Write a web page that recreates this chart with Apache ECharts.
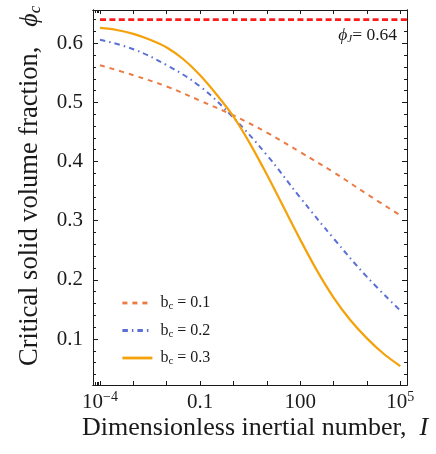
<!DOCTYPE html>
<html>
<head>
<meta charset="utf-8">
<script src="https://cdn.jsdelivr.net/npm/echarts@6/dist/echarts.min.js"></script>
<style>
  html, body { margin: 0; padding: 0; background: #ffffff; }
  #chart { width: 436px; height: 454px; }
</style>
</head>
<body>
<div id="chart"></div>
<script>
// Inertial number samples (one per decade)
const I_VALUES = [1e-4, 1e-3, 1e-2, 1e-1, 1, 10, 100, 1e3, 1e4, 1e5];
// Half-decade samples for the steepest curve
const I_HALF = [1e-4, 3.16e-4, 1e-3, 3.16e-3, 1e-2, 3.16e-2, 1e-1, 3.16e-1, 1, 3.16,
                10, 31.6, 100, 316, 1e3, 3160, 1e4, 31600, 1e5];

// Critical solid volume fraction for each b_c
const PHI_BC01 = [0.563, 0.546, 0.527, 0.503, 0.478, 0.449, 0.416, 0.382, 0.345, 0.309];
const PHI_BC02 = [0.606, 0.590, 0.563, 0.527, 0.474, 0.411, 0.339, 0.270, 0.205, 0.148];
const PHI_BC03 = [0.626, 0.6225, 0.616, 0.606, 0.593, 0.573, 0.546, 0.513, 0.476, 0.430,
                  0.378, 0.323, 0.268, 0.216, 0.170, 0.132, 0.101, 0.075, 0.054];

// Jamming fraction
const PHI_J = 0.64;

const SERIES_NAMES = ['b_c = 0.1', 'b_c = 0.2', 'b_c = 0.3'];

// Axis ticks
const X_TICKS = [1e-4, 1e-3, 1e-2, 1e-1, 1, 10, 100, 1e3, 1e4, 1e5];
const X_LABELS = [1e-4, 0.1, 100, 1e5];
const X_MINOR = [7e-5, 8e-5, 9e-5];
const Y_TICKS = [0.1, 0.2, 0.3, 0.4, 0.5, 0.6];
const Y_MINOR = [0.04, 0.06, 0.08, 0.12, 0.14, 0.16, 0.18, 0.22, 0.24, 0.26, 0.28,
                 0.32, 0.34, 0.36, 0.38, 0.42, 0.44, 0.46, 0.48, 0.52, 0.54, 0.56,
                 0.58, 0.62, 0.64];

const X_MIN = Math.pow(10, -4.21);
const X_MAX = Math.pow(10, 5.2);
const Y_MIN = 0.0222;
const Y_MAX = 0.6563;

const SERIF = '"Liberation Serif", "DejaVu Serif", serif';
const INK = '#1a1a1a';

const pairs = (xs, ys) => xs.map((x, i) => [x, ys[i]]);

function xLabel(v) {
  const e = Math.round(Math.log10(v));
  if (e === -4 || e === 5) {
    return '{base|10}{sup|' + (e < 0 ? '\u2212' + (-e) : e) + '}';
  }
  return '{base|' + (e === -1 ? '0.1' : '100') + '}';
}

function xAxisDef(position, ticks, len, showLabels) {
  return {
    type: 'log',
    logBase: 10,
    position: position,
    min: X_MIN,
    max: X_MAX,
    axisLine: { show: true, lineStyle: { color: INK, width: 1 } },
    splitLine: { show: false },
    axisTick: { show: true, inside: true, length: len, customValues: ticks,
                lineStyle: { color: INK, width: 1 } },
    axisLabel: showLabels ? {
      show: true, customValues: X_LABELS, margin: 5,
      formatter: xLabel,
      rich: {
        base: { fontFamily: SERIF, fontSize: 21, color: INK, lineHeight: 24, verticalAlign: 'middle' },
        sup: { fontFamily: SERIF, fontSize: 14, color: INK, lineHeight: 12, verticalAlign: 'top' }
      }
    } : { show: false }
  };
}

function yAxisDef(position, ticks, len, showLabels) {
  return {
    type: 'value',
    position: position,
    min: Y_MIN,
    max: Y_MAX,
    axisLine: { show: true, lineStyle: { color: INK, width: 1 } },
    splitLine: { show: false },
    axisTick: { show: true, inside: true, length: len, customValues: ticks,
                lineStyle: { color: INK, width: 1 } },
    axisLabel: showLabels ? {
      show: true, customValues: Y_TICKS, margin: 10,
      fontFamily: SERIF, fontSize: 21, color: INK,
      formatter: (v) => v.toFixed(1)
    } : { show: false }
  };
}

const chart = echarts.init(document.getElementById('chart'), null, { renderer: 'canvas' });

chart.setOption({
  animation: false,
  backgroundColor: '#ffffff',
  grid: { left: 93, right: 29, top: 10, bottom: 69, containLabel: false },
  xAxis: [
    xAxisDef('bottom', X_TICKS, 4, true),
    xAxisDef('bottom', X_MINOR, 3, false),
    xAxisDef('top', X_TICKS, 4, false),
    xAxisDef('top', X_MINOR, 3, false)
  ],
  yAxis: [
    yAxisDef('left', Y_TICKS, 5, true),
    yAxisDef('left', Y_MINOR, 3, false),
    yAxisDef('right', Y_TICKS, 5, false),
    yAxisDef('right', Y_MINOR, 3, false)
  ],
  legend: {
    data: SERIES_NAMES,
    orient: 'vertical',
    left: 116,
    top: 290,
    itemWidth: 30,
    itemHeight: 14,
    itemGap: 10.5,
    itemStyle: { opacity: 0 },
    lineStyle: { width: 2.8 },
    formatter: (name) => {
      const rest = name.replace('b_c', '');
      return '{b|b}{s|c}{b|' + rest + '}';
    },
    textStyle: {
      padding: [0, 0, 0, 3],
      rich: {
        b: { fontFamily: SERIF, fontSize: 16, color: INK, lineHeight: 18, verticalAlign: 'middle' },
        s: { fontFamily: SERIF, fontSize: 11, color: INK, lineHeight: 11, verticalAlign: 'bottom' }
      }
    }
  },
  graphic: [
    {
      type: 'text',
      x: 82,
      y: 428,
      style: {
        text: '{t|Dimensionless inertial number,  }{i|I}',
        textAlign: 'left',
        textVerticalAlign: 'middle',
        rich: {
          t: { fontFamily: SERIF, fontSize: 26, fill: INK },
          i: { fontFamily: SERIF, fontSize: 26, fontStyle: 'italic', fill: INK }
        }
      }
    },
    {
      type: 'text',
      x: 30,
      y: 366,
      rotation: Math.PI / 2,
      style: {
        text: '{t|Critical solid volume fraction,   }{i|\u03D5}{s|c}',
        textAlign: 'left',
        textVerticalAlign: 'middle',
        rich: {
          t: { fontFamily: SERIF, fontSize: 26.5, fill: INK, lineHeight: 28, verticalAlign: 'middle' },
          i: { fontFamily: SERIF, fontSize: 26, fontStyle: 'italic', fill: INK, lineHeight: 28, verticalAlign: 'middle' },
          s: { fontFamily: SERIF, fontSize: 17, fontStyle: 'italic', fill: INK, lineHeight: 16, verticalAlign: 'bottom' }
        }
      }
    },
    {
      type: 'text',
      x: 397,
      y: 35,
      style: {
        text: '{i|\u03D5}{s|J}{t|= 0.64}',
        textAlign: 'right',
        textVerticalAlign: 'middle',
        rich: {
          i: { fontFamily: SERIF, fontSize: 17.5, fontStyle: 'italic', fill: INK, lineHeight: 20, verticalAlign: 'middle' },
          s: { fontFamily: SERIF, fontSize: 11, fontStyle: 'italic', fill: INK, lineHeight: 11, verticalAlign: 'bottom' },
          t: { fontFamily: SERIF, fontSize: 17.5, fill: INK, lineHeight: 20, verticalAlign: 'middle' }
        }
      }
    }
  ],
  series: [
    {
      name: 'phiJ',
      type: 'line',
      data: [[I_VALUES[0], PHI_J], [X_MAX, PHI_J]],
      showSymbol: false,
      symbol: 'none',
      lineStyle: { color: '#ff1a1a', width: 2.6, type: [6, 3.4], cap: 'butt' },
      silent: true,
      z: 3
    },
    {
      name: SERIES_NAMES[0],
      type: 'line',
      data: pairs(I_VALUES, PHI_BC01),
      smooth: 0.4,
      symbol: 'none',
      color: '#eb7a45',
      lineStyle: { color: '#eb7a45', width: 2, type: [5, 5], cap: 'butt' },
      z: 4
    },
    {
      name: SERIES_NAMES[1],
      type: 'line',
      data: pairs(I_VALUES, PHI_BC02),
      smooth: 0.4,
      symbol: 'none',
      color: '#5b70d6',
      lineStyle: { color: '#5b70d6', width: 2, type: [5.5, 4, 1.5, 4], cap: 'butt' },
      z: 4
    },
    {
      name: SERIES_NAMES[2],
      type: 'line',
      data: pairs(I_HALF, PHI_BC03),
      smooth: 0.3,
      symbol: 'none',
      color: '#f5a10a',
      lineStyle: { color: '#f5a10a', width: 2.2, type: 'solid' },
      z: 5
    }
  ]
});
</script>
</body>
</html>
